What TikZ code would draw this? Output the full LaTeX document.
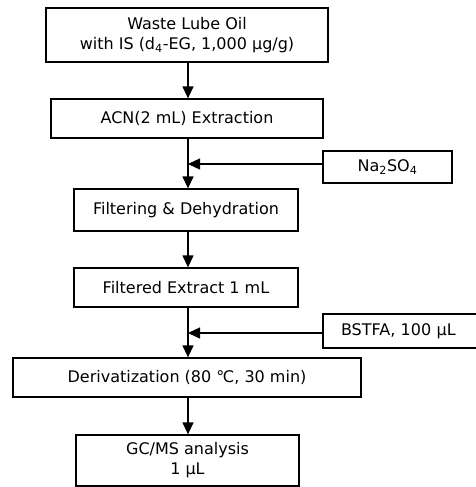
\documentclass[tikz,border=0pt]{standalone}
\usepackage{fontspec}
\setmainfont{DejaVu Sans}
\usetikzlibrary{arrows.meta,positioning}
\tikzset{
  box/.style={draw,line width=1.3pt,align=center,inner sep=2pt,font=\fontsize{16}{20}\selectfont},
  ar/.style={-{Triangle[length=12pt,width=11pt]},line width=1.3pt},
}
\begin{document}
\begin{tikzpicture}[x=1pt,y=-1pt]
\useasboundingbox (0,0) rectangle (475,487);
\node[box,minimum width=282pt,minimum height=54pt] (oil) at (187,35) {Waste Lube Oil\\with IS (d\textsubscript{4}-EG, 1,000 µg/g)};
\node[box,minimum width=272pt,minimum height=39pt] (acn) at (187,118.5) {ACN(2 mL) Extraction};
\node[box,minimum width=129pt,minimum height=32pt] (na) at (387.5,167) {Na\textsubscript{2}SO\textsubscript{4}};
\node[box,minimum height=34pt,inner xsep=18pt,text width=122pt,align=left] (bstfa) at (402,331) {BSTFA, 100 µL};
\node[box,minimum width=224pt,minimum height=42pt] (filt) at (186,210) {Filtering \& Dehydration};
\node[box,minimum width=224pt,minimum height=39pt] (ext) at (186,287.5) {Filtered Extract 1 mL};
\node[box,minimum width=348pt,minimum height=39pt] (der) at (187,377.5) {Derivatization (80 ℃, 30 min)};
\node[box,minimum width=223pt,minimum height=51pt] (gc) at (187.5,460.5) {GC/MS analysis\\1 µL};
\coordinate (j1) at (188,164);
\coordinate (j2) at (188,333);
\draw[ar] (oil.south -| j1) -- (acn.north -| j1);
\draw[ar] (acn.south -| j1) -- (filt.north -| j1);
\draw[ar] (na.west |- j1) -- (j1);
\draw[ar] (filt.south -| j1) -- (ext.north -| j1);
\draw[ar] (ext.south -| j2) -- (der.north -| j2);
\draw[ar] (bstfa.west |- j2) -- (j2);
\draw[ar] (der.south -| j2) -- (gc.north -| j2);
\end{tikzpicture}
\end{document}
